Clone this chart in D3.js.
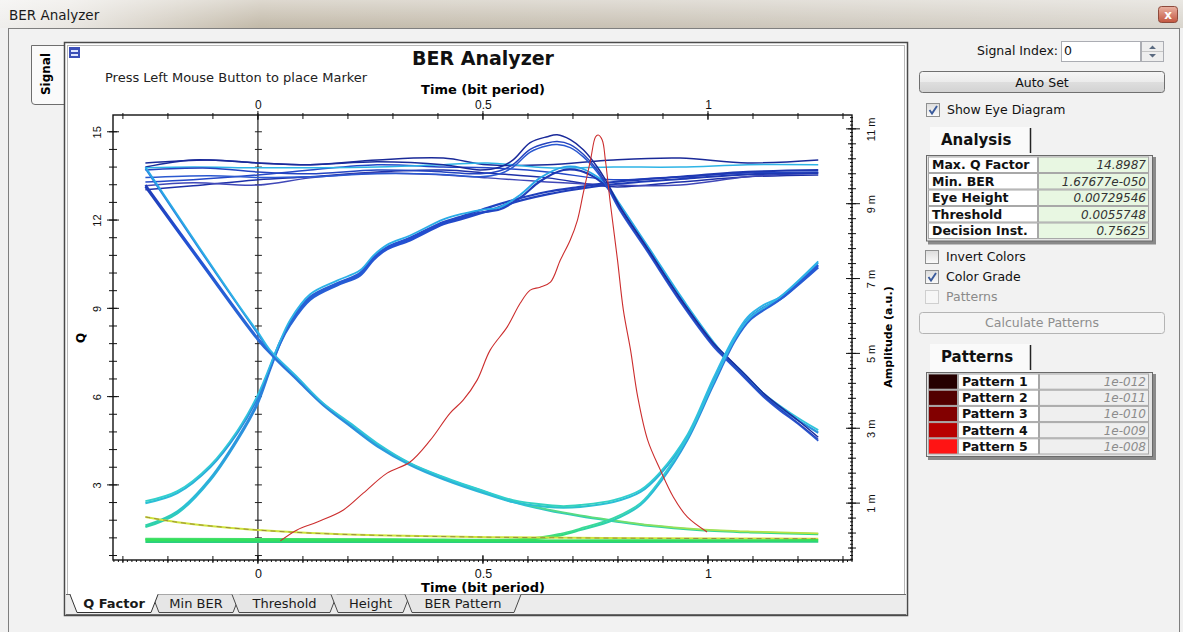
<!DOCTYPE html>
<html>
<head>
<meta charset="utf-8">
<style>
body { margin: 0; background: #f1f1f1; }
svg { display: block; font-family: "DejaVu Sans", Verdana, sans-serif; }
</style>
</head>
<body>
<svg id="win" width="1183" height="632"></svg>
<script src="https://cdn.jsdelivr.net/npm/d3@7"></script>
<script>
// ---------- data ----------
var qTicks = [3, 6, 9, 12, 15];
var ampTicks = [1, 3, 5, 7, 9, 11];
var timeTicks = [0, 0.5, 1];

// Q factor curve (left axis)
var qTime  = [0.050, 0.087, 0.132, 0.190, 0.234, 0.287, 0.338, 0.383, 0.427, 0.456, 0.487, 0.516, 0.554, 0.583, 0.605, 0.627, 0.650, 0.672, 0.694, 0.710, 0.723, 0.739, 0.750, 0.756, 0.765, 0.772, 0.783, 0.799, 0.812, 0.828, 0.844, 0.866, 0.894, 0.923, 0.954, 0.998];
var qValue = [1.10, 1.47, 1.74, 2.15, 2.72, 3.40, 3.78, 4.52, 5.44, 5.88, 6.56, 7.58, 8.37, 9.18, 9.62, 9.72, 9.89, 10.64, 11.32, 12.00, 12.92, 14.04, 14.82, 14.89, 14.72, 14.04, 12.57, 10.64, 8.94, 7.58, 5.98, 4.52, 3.51, 2.59, 1.91, 1.40];

// eye diagram, amplitude in m(a.u.) vs time (bit period)
var highTime = [-0.25, -0.144, 0, 0.116, 0.265, 0.412, 0.51, 0.643, 0.79, 0.938, 1.088, 1.245];
var high1 = [9.98, 10.17, 10.09, 10.04, 10.17, 10.22, 10.04, 10.04, 10.17, 10.22, 10.09, 10.17];
var high2 = [9.96, 9.98, 9.96, 9.96, 9.98, 10.04, 10.09, 9.96, 9.98, 9.98, 10.04, 10.04];
var high3 = [9.58, 9.64, 9.77, 9.90, 10.04, 9.98, 9.96, 9.85, 9.64, 9.72, 9.82, 9.85];
var high4 = [9.37, 9.48, 9.64, 9.72, 9.85, 9.90, 9.82, 9.69, 9.45, 9.58, 9.72, 9.77];
var high5 = [9.48, 9.56, 9.50, 9.69, 9.82, 9.77, 9.69, 9.58, 9.50, 9.50, 9.72, 9.82];

var overshoot1 = [[-0.25,10.09],[-0.106,10.17],[0,10.09],[0.116,10.04],[0.265,10.12],[0.412,10.04],[0.494,9.90],[0.538,9.98],[0.567,10.17],[0.605,10.63],[0.643,10.79],[0.665,10.84],[0.694,10.71],[0.723,10.44],[0.754,9.98],[0.776,9.56],[0.805,8.91],[0.865,7.82],[0.938,6.48],[1.012,5.28],[1.043,4.90],[1.088,4.37],[1.123,3.94],[1.161,3.57],[1.199,3.22],[1.245,2.76]];
var overshoot2 = [[-0.25,9.90],[-0.106,9.95],[0,9.85],[0.116,9.80],[0.265,9.90],[0.412,9.85],[0.494,9.80],[0.538,9.88],[0.567,10.05],[0.605,10.45],[0.643,10.62],[0.665,10.66],[0.694,10.58],[0.723,10.32],[0.754,9.90],[0.776,9.48],[0.805,8.84],[0.865,7.76],[0.938,6.42],[1.012,5.22],[1.043,4.84],[1.088,4.30],[1.123,3.88],[1.161,3.50],[1.199,3.15],[1.245,2.70]];
var overshoot3 = [[-0.25,9.70],[-0.106,9.75],[0,9.70],[0.116,9.72],[0.265,9.80],[0.412,9.78],[0.494,9.72],[0.538,9.80],[0.567,9.98],[0.605,10.38],[0.643,10.55],[0.665,10.58],[0.694,10.50],[0.723,10.25],[0.754,9.84],[0.776,9.44],[0.805,8.80],[0.865,7.72],[0.938,6.38],[1.012,5.18],[1.043,4.80],[1.088,4.26],[1.123,3.84],[1.161,3.46],[1.199,3.12],[1.245,2.66]];

var riseGentle1 = [[-0.25,1.0],[-0.179,1.27],[-0.106,1.96],[-0.046,2.87],[0,3.83],[0.043,5.09],[0.072,5.84],[0.116,6.51],[0.177,6.88],[0.227,7.15],[0.257,7.58],[0.287,7.84],[0.338,8.09],[0.412,8.51],[0.45,8.65],[0.51,8.89],[0.567,9.10],[0.643,9.32],[0.716,9.45],[0.79,9.58],[0.938,9.72],[1.088,9.85],[1.245,9.90]];
var riseGentle2 = [[-0.25,0.36],[-0.179,0.73],[-0.106,1.61],[-0.032,2.95],[0,3.67],[0.027,4.56],[0.05,5.28],[0.072,5.76],[0.116,6.43],[0.177,6.82],[0.227,7.08],[0.257,7.50],[0.287,7.78],[0.338,8.02],[0.412,8.45],[0.45,8.58],[0.51,8.80],[0.567,9.03],[0.643,9.25],[0.716,9.40],[0.79,9.52],[0.938,9.66],[1.088,9.78],[1.245,9.82]];
var risePeak1 = [[-0.25,1.05],[-0.179,1.32],[-0.106,2.01],[-0.046,2.93],[0,3.90],[0.043,5.15],[0.072,5.90],[0.116,6.58],[0.177,6.95],[0.227,7.22],[0.257,7.62],[0.287,7.90],[0.338,8.15],[0.412,8.58],[0.45,8.72],[0.494,8.83],[0.538,8.91],[0.583,9.24],[0.627,9.69],[0.679,9.98],[0.716,9.96],[0.754,9.72],[0.776,9.50],[0.805,8.97],[0.872,7.76],[0.945,6.43],[1.027,5.09],[1.072,4.56],[1.123,3.94],[1.183,3.41],[1.245,2.95]];
var risePeak2 = [[-0.25,0.40],[-0.179,0.78],[-0.106,1.66],[-0.032,3.0],[0,3.72],[0.027,4.62],[0.05,5.33],[0.072,5.80],[0.116,6.47],[0.177,6.86],[0.227,7.12],[0.257,7.55],[0.287,7.82],[0.338,8.06],[0.412,8.48],[0.45,8.62],[0.494,8.76],[0.538,8.85],[0.583,9.16],[0.627,9.60],[0.679,9.90],[0.716,9.88],[0.754,9.66],[0.776,9.44],[0.805,8.92],[0.872,7.70],[0.945,6.38],[1.027,5.04],[1.072,4.50],[1.123,3.88],[1.183,3.35],[1.245,2.88]];

var fallU1 = [[-0.25,9.98],[-0.128,7.79],[-0.04,6.24],[0,5.57],[0.027,5.09],[0.087,4.37],[0.145,3.67],[0.205,3.14],[0.265,2.60],[0.338,2.07],[0.412,1.70],[0.516,1.27],[0.567,1.08],[0.643,0.95],[0.679,0.92],[0.716,0.95],[0.79,1.08],[0.85,1.35],[0.894,1.83],[0.954,2.82],[1.012,4.34],[1.057,5.41],[1.088,5.97],[1.123,6.29],[1.161,6.51],[1.205,6.96],[1.245,7.42]];
var fallU2 = [[-0.25,9.45],[-0.127,7.42],[0,5.36],[0.035,4.90],[0.087,4.29],[0.145,3.62],[0.205,3.06],[0.265,2.52],[0.338,2.02],[0.412,1.64],[0.516,1.21],[0.567,1.03],[0.643,0.90],[0.679,0.88],[0.716,0.90],[0.79,1.03],[0.85,1.30],[0.894,1.78],[0.954,2.76],[1.012,4.26],[1.057,5.33],[1.088,5.90],[1.123,6.22],[1.161,6.45],[1.205,6.88],[1.245,7.30]];
var fallDecay1 = [[-0.25,9.50],[-0.127,7.47],[0,5.40],[0.035,4.94],[0.087,4.33],[0.145,3.65],[0.205,3.10],[0.265,2.56],[0.338,2.05],[0.412,1.68],[0.516,1.25],[0.567,1.03],[0.643,0.81],[0.716,0.65],[0.79,0.52],[0.872,0.39],[0.983,0.28],[1.094,0.22],[1.245,0.17]];
var fallDecay2 = [[-0.25,9.94],[-0.128,7.75],[0,5.52],[0.027,5.05],[0.087,4.33],[0.145,3.63],[0.205,3.10],[0.265,2.57],[0.338,2.04],[0.412,1.67],[0.516,1.24],[0.567,1.05],[0.643,0.83],[0.716,0.67],[0.79,0.54],[0.872,0.41],[0.983,0.30],[1.094,0.24],[1.245,0.19]];

var floorRise1 = [[-0.25,0.03],[0.3,0.02],[0.605,0.03],[0.672,0.14],[0.716,0.28],[0.79,0.55],[0.85,0.95],[0.894,1.56],[0.954,2.68],[1.012,4.16],[1.061,5.36],[1.094,5.90],[1.161,6.45],[1.245,7.36]];
var floorRise2 = [[-0.25,0.05],[0.3,0.04],[0.6,0.05],[0.672,0.18],[0.716,0.32],[0.79,0.60],[0.85,1.0],[0.894,1.62],[0.954,2.74],[1.012,4.22],[1.061,5.42],[1.094,5.96],[1.161,6.52],[1.245,7.46]];
var floor1 = [[-0.25,0.01],[0.5,0.0],[1.245,0.01]];
var floor2 = [[-0.25,-0.04],[0.5,-0.04],[1.245,-0.03]];
var tailDecay = [[-0.25,0.63],[-0.179,0.49],[-0.106,0.39],[0,0.28],[0.116,0.20],[0.265,0.14],[0.516,0.09],[0.872,0.06],[1.245,0.05]];

var analysisLabels = ["Max. Q Factor", "Min. BER", "Eye Height", "Threshold", "Decision Inst."];
var analysisValues = ["14.8987", "1.67677e-050", "0.00729546", "0.0055748", "0.75625"];
var patternNames = ["Pattern 1", "Pattern 2", "Pattern 3", "Pattern 4", "Pattern 5"];
var patternBer = ["1e-012", "1e-011", "1e-010", "1e-009", "1e-008"];
var tabNames = ["Q Factor", "Min BER", "Threshold", "Height", "BER Pattern"];

// ---------- window chrome ----------
var svg = d3.select("#win");
var defs = svg.append("defs");

function grad(id, stops, vertical) {
	var g = defs.append("linearGradient").attr("id", id)
		.attr("x1", 0).attr("y1", 0).attr("x2", vertical ? 0 : 1).attr("y2", vertical ? 1 : 0);
	stops.forEach(function(s) { g.append("stop").attr("offset", s[0]).attr("stop-color", s[1]); });
	return g;
}
grad("tb", [[0, "#efeeec"], [0.06, "#e9e6e1"], [0.22, "#c2b9a8"], [0.55, "#c9c2b5"], [1, "#d9d5cd"]]);
grad("tbv", [[0, "#ffffff"], [1, "#ffffff"]], true).selectAll("stop").attr("stop-opacity", function(d, i) { return i ? 0 : 0.45; });
grad("btn", [[0, "#f6f6f6"], [0.5, "#ebebeb"], [0.51, "#dedede"], [1, "#d2d2d2"]], true);
grad("cls", [[0, "#eab3a3"], [1, "#c2553f"]], true);
grad("cb", [[0, "#dcdcdc"], [1, "#fbfbfb"]], true);

svg.append("rect").attr("width", 1183).attr("height", 28).attr("fill", "url(#tb)");
svg.append("rect").attr("width", 1183).attr("height", 28).attr("fill", "url(#tbv)");
svg.append("text").attr("x", 9).attr("y", 20).attr("font-size", 13.5).attr("fill", "#1a1a1a").text("BER Analyzer");
svg.append("rect").attr("x", 1158.5).attr("y", 6.5).attr("width", 19).attr("height", 16).attr("rx", 3)
	.attr("fill", "url(#cls)").attr("stroke", "#8d4a3c");
svg.append("text").attr("x", 1168).attr("y", 19).attr("text-anchor", "middle").attr("font-size", 12)
	.attr("font-weight", "bold").attr("fill", "#fff").text("x");

svg.append("rect").attr("x", 8.5).attr("y", 28.5).attr("width", 1171).attr("height", 610)
	.attr("fill", "#f2f2f2").attr("stroke", "#7f7f7f");

// left "Signal" tab
svg.append("path").attr("d", "M64,45.5 L31.5,45.5 L31.5,101 Q31.5,104.5 35,104.5 L64,104.5")
	.attr("fill", "#fafafa").attr("stroke", "#6e6e6e");
svg.append("text").attr("transform", "translate(50,74) rotate(-90)").attr("text-anchor", "middle")
	.attr("font-size", 12).attr("font-weight", "bold").text("Signal");

// chart panel
svg.append("rect").attr("x", 64.5).attr("y", 42.5).attr("width", 843).attr("height", 573)
	.attr("fill", "#fff").attr("stroke", "#4a4a4a").attr("stroke-width", 1.5);
svg.append("rect").attr("x", 67.5).attr("y", 45.5).attr("width", 837).attr("height", 567)
	.attr("fill", "none").attr("stroke", "#b8b8b8");

// bottom tab strip
svg.append("rect").attr("x", 66).attr("y", 594).attr("width", 840).attr("height", 20).attr("fill", "#ececec");
svg.append("line").attr("x1", 66).attr("x2", 906).attr("y1", 594.5).attr("y2", 594.5).attr("stroke", "#6a6a6a");
svg.append("line").attr("x1", 66).attr("x2", 906).attr("y1", 614.5).attr("y2", 614.5).attr("stroke", "#6a6a6a");
var tabX = [[70, 158], [152, 240], [232, 337], [331, 410], [405, 521]];
tabNames.forEach(function(name, i) {
	var a = tabX[i][0], b = tabX[i][1];
	if (i > 0) svg.append("path").attr("d", "M" + a + ",594.5 L" + (a + 7) + ",612.5 L" + (b - 7) + ",612.5 L" + b + ",594.5")
		.attr("fill", "#e6e6e6").attr("stroke", "#4a4a4a");
});
svg.append("path").attr("d", "M70,594.5 L77,612.5 L151,612.5 L158,594.5").attr("fill", "#fff").attr("stroke", "#333");
svg.append("line").attr("x1", 71).attr("x2", 157).attr("y1", 594.5).attr("y2", 594.5).attr("stroke", "#fff").attr("stroke-width", 1.5);
tabNames.forEach(function(name, i) {
	svg.append("text").attr("x", (tabX[i][0] + tabX[i][1]) / 2).attr("y", 608).attr("text-anchor", "middle")
		.attr("font-size", 13).attr("font-weight", i === 0 ? "bold" : "normal").attr("fill", "#1a1a1a").text(name);
});

// chart icon + headings
var icon = svg.append("g").attr("transform", "translate(69,47)");
icon.append("rect").attr("width", 11).attr("height", 11).attr("fill", "#3b4fb8");
icon.append("rect").attr("x", 2).attr("y", 3).attr("width", 7).attr("height", 2).attr("fill", "#dfe6ff");
icon.append("rect").attr("x", 2).attr("y", 7).attr("width", 7).attr("height", 2).attr("fill", "#dfe6ff");

svg.append("text").attr("x", 483).attr("y", 65).attr("text-anchor", "middle").attr("font-size", 19)
	.attr("font-weight", "bold").attr("fill", "#111").text("BER Analyzer");
svg.append("text").attr("x", 105).attr("y", 82).attr("font-size", 13).attr("fill", "#222")
	.text("Press Left Mouse Button to place Marker");

// ---------- plot ----------
var pL = 113, pR = 852, pT = 115, pB = 560;
var x = d3.scaleLinear().domain([-0.322, 1.32]).range([pL, pR]);
var yQ = d3.scaleLinear().domain([0.448, 15.57]).range([pB, pT]);
var yA = d3.scaleLinear().domain([-0.52, 11.37]).range([pB, pT]);

defs.append("clipPath").attr("id", "plotClip").append("rect")
	.attr("x", pL).attr("y", pT).attr("width", pR - pL).attr("height", pB - pT);

// colour-grade gradients along the amplitude axis
function ampGrad(id, stops) {
	var g = defs.append("linearGradient").attr("id", id).attr("gradientUnits", "userSpaceOnUse")
		.attr("x1", 0).attr("x2", 0).attr("y1", pT).attr("y2", pB);
	stops.forEach(function(s) {
		g.append("stop").attr("offset", (yA(s[0]) - pT) / (pB - pT)).attr("stop-color", s[1]);
	});
}
ampGrad("gMain", [[10.6, "#1c2da4"], [8, "#2350d2"], [5, "#2a6ed8"], [2.5, "#2b98de"], [1, "#2bbfd6"], [0.3, "#2fd6a0"], [0, "#34e060"]]);
ampGrad("gCyan", [[10, "#28a6e6"], [5, "#2fb8e6"], [1.2, "#31cfd0"], [0.2, "#3cdc88"], [0, "#48e060"]]);
ampGrad("gWarm", [[5, "#2a7ee0"], [1.5, "#2ec6d2"], [0.6, "#5ede78"], [0.15, "#c6e23c"], [0, "#d8e040"]]);

var zero = svg.append("g");
zero.append("line").attr("x1", x(0)).attr("x2", x(0)).attr("y1", pT).attr("y2", pB).attr("stroke", "#222").attr("stroke-width", 1.2);
var qMinor = d3.range(1, 26).map(function(k) { return k * 0.6; });
zero.selectAll("line.zt").data(qMinor).join("line").attr("class", "zt")
	.attr("x1", x(0) - 3).attr("x2", x(0) + 4).attr("y1", function(d) { return yQ(d); }).attr("y2", function(d) { return yQ(d); })
	.attr("stroke", "#222");

var eyeLine = d3.line().x(function(d) { return x(d[0]); }).y(function(d) { return yA(d[1]); })
	.curve(d3.curveCatmullRom.alpha(0.5));

var traces = [
	{ pts: d3.zip(highTime, high4), stroke: "#1e30a8", w: 1.5 },
	{ pts: d3.zip(highTime, high5), stroke: "#4048b8", w: 1.5 },
	{ pts: d3.zip(highTime, high3), stroke: "#2448c8", w: 1.5 },
	{ pts: d3.zip(highTime, high1), stroke: "#1a2a98", w: 1.5 },
	{ pts: d3.zip(highTime, high2), stroke: "#2eb4e6", w: 1.5 },
	{ pts: riseGentle2, stroke: "url(#gMain)", w: 2.2 },
	{ pts: riseGentle1, stroke: "url(#gMain)", w: 2.2 },
	{ pts: risePeak2, stroke: "url(#gMain)", w: 2.2 },
	{ pts: risePeak1, stroke: "url(#gCyan)", w: 1.8 },
	{ pts: overshoot3, stroke: "#2a58d0", w: 1.5 },
	{ pts: overshoot2, stroke: "#2444c0", w: 1.5 },
	{ pts: overshoot1, stroke: "#1a2a9a", w: 1.5 },
	{ pts: fallDecay1, stroke: "url(#gMain)", w: 2.2 },
	{ pts: fallDecay2, stroke: "url(#gWarm)", w: 1.8 },
	{ pts: fallU2, stroke: "url(#gMain)", w: 2.2 },
	{ pts: fallU1, stroke: "url(#gCyan)", w: 1.8 },
	{ pts: floorRise1, stroke: "url(#gMain)", w: 2.2 },
	{ pts: floorRise2, stroke: "url(#gCyan)", w: 1.8 },
	{ pts: tailDecay, stroke: "#cfe43c", w: 2 },
	{ pts: floor2, stroke: "#2ad080", w: 2 },
	{ pts: floor1, stroke: "#34e05c", w: 2.2 }
];

var plot = svg.append("g").attr("clip-path", "url(#plotClip)");
plot.selectAll("path.eye").data(traces).join("path").attr("class", "eye")
	.attr("d", function(d) { return eyeLine(d.pts); })
	.attr("fill", "none").attr("stroke", function(d) { return d.stroke; })
	.attr("stroke-width", function(d) { return d.w; }).attr("stroke-linejoin", "round");
plot.append("path").attr("d", eyeLine(tailDecay)).attr("fill", "none")
	.attr("stroke", "#9c8c3a").attr("stroke-width", 1).attr("stroke-dasharray", "5,4");

var qLine = d3.line().x(function(d) { return x(d[0]); }).y(function(d) { return yQ(d[1]); })
	.curve(d3.curveCatmullRom.alpha(0.5));
plot.append("path").attr("d", qLine(d3.zip(qTime, qValue))).attr("fill", "none")
	.attr("stroke", "#cc2e2e").attr("stroke-width", 1.1);

// ---------- axes ----------
svg.append("rect").attr("x", pL).attr("y", pT).attr("width", pR - pL).attr("height", pB - pT)
	.attr("fill", "none").attr("stroke", "#111").attr("stroke-width", 1.4);

function tickLines(cls, vals, x1, x2, y1, y2) {
	svg.selectAll("line." + cls).data(vals).join("line").attr("class", cls)
		.attr("x1", x1).attr("x2", x2).attr("y1", y1).attr("y2", y2)
		.attr("stroke", "#111").attr("stroke-width", 1);
}
var tMinor = d3.range(-3, 14).map(function(k) { return k / 10; });
var tTiny = d3.range(-32, 133).map(function(k) { return k / 100; });
var aMinor = d3.range(0, 29).map(function(k) { return -0.2 + k * 0.4; });
var aTiny = d3.range(-5, 114).map(function(k) { return k / 10; });

tickLines("tt", tMinor, function(d) { return x(d); }, function(d) { return x(d); }, pT - 2, pT + 4);
tickLines("bt", tMinor, function(d) { return x(d); }, function(d) { return x(d); }, pB - 4, pB + 3);
tickLines("btt", tTiny, function(d) { return x(d); }, function(d) { return x(d); }, pB, pB + 2);
tickLines("lt", qMinor, pL - 4, pL + 4, function(d) { return yQ(d); }, function(d) { return yQ(d); });
tickLines("lq", qTicks, pL - 6, pL + 6, function(d) { return yQ(d); }, function(d) { return yQ(d); });
tickLines("rt", aMinor, pR - 4, pR + 4, function(d) { return yA(d); }, function(d) { return yA(d); });
tickLines("rtt", aTiny, pR - 2, pR + 1, function(d) { return yA(d); }, function(d) { return yA(d); });
tickLines("ra", ampTicks, pR - 6, pR + 8, function(d) { return yA(d); }, function(d) { return yA(d); });
tickLines("t0", timeTicks, function(d) { return x(d); }, function(d) { return x(d); }, pT - 4, pT + 5);
tickLines("b0", timeTicks, function(d) { return x(d); }, function(d) { return x(d); }, pB - 5, pB + 4);

function clean(g) { g.select(".domain").remove(); g.selectAll(".tick line").remove(); }

svg.append("g").attr("transform", "translate(0," + pT + ")")
	.call(d3.axisTop(x).tickValues(timeTicks).tickSize(0).tickPadding(6).tickFormat(d3.format("")))
	.call(clean).selectAll("text").attr("font-size", 12).attr("font-family", null).attr("fill", "#111");
svg.append("g").attr("transform", "translate(0," + pB + ")")
	.call(d3.axisBottom(x).tickValues(timeTicks).tickSize(0).tickPadding(9).tickFormat(d3.format("")))
	.call(clean).selectAll("text").attr("font-size", 12.5).attr("font-family", null).attr("fill", "#111");

svg.append("g").attr("transform", "translate(" + pL + ",0)")
	.call(d3.axisLeft(yQ).tickValues(qTicks).tickSize(0))
	.call(clean).selectAll("text")
	.attr("transform", "rotate(-90)").attr("x", 0).attr("y", -12).attr("dy", null)
	.attr("text-anchor", "middle").attr("font-size", 11).attr("font-family", null).attr("fill", "#111");

svg.append("g").attr("transform", "translate(" + pR + ",0)")
	.call(d3.axisRight(yA).tickValues(ampTicks).tickSize(0).tickFormat(function(d) { return d + " m"; }))
	.call(clean).selectAll("text")
	.attr("transform", "rotate(-90)").attr("x", 0).attr("y", 23).attr("dy", null)
	.attr("text-anchor", "middle").attr("font-size", 11).attr("font-family", null).attr("fill", "#111");

svg.append("text").attr("x", 483).attr("y", 94).attr("text-anchor", "middle").attr("font-size", 13)
	.attr("font-weight", "bold").text("Time (bit period)");
svg.append("text").attr("x", 483).attr("y", 592).attr("text-anchor", "middle").attr("font-size", 13)
	.attr("font-weight", "bold").text("Time (bit period)");
svg.append("text").attr("transform", "translate(85,338) rotate(-90)").attr("text-anchor", "middle")
	.attr("font-size", 12).attr("font-weight", "bold").text("Q");
svg.append("text").attr("transform", "translate(892,337) rotate(-90)").attr("text-anchor", "middle")
	.attr("font-size", 11).attr("font-weight", "bold").text("Amplitude (a.u.)");

// ---------- right side controls ----------
var side = svg.append("g").attr("font-size", 12.5).attr("fill", "#111");
side.append("text").attr("x", 1058).attr("y", 55).attr("text-anchor", "end").text("Signal Index:");
side.append("rect").attr("x", 1061.5).attr("y", 41.5).attr("width", 79).attr("height", 20).attr("fill", "#fff").attr("stroke", "#abadb3");
side.append("text").attr("x", 1064).attr("y", 55).text("0");
side.append("rect").attr("x", 1141.5).attr("y", 41.5).attr("width", 22).attr("height", 20).attr("fill", "#eeeeee").attr("stroke", "#abadb3");
side.append("line").attr("x1", 1142).attr("x2", 1163).attr("y1", 51.5).attr("y2", 51.5).attr("stroke", "#c4c4c4");
side.append("path").attr("d", "M1149,49 L1152.5,45.5 L1156,49 Z M1149,54 L1152.5,57.5 L1156,54 Z").attr("fill", "#5a6a80");

side.append("rect").attr("x", 919.5).attr("y", 71.5).attr("width", 245).attr("height", 21).attr("rx", 3)
	.attr("fill", "url(#btn)").attr("stroke", "#707070");
side.append("text").attr("x", 1042).attr("y", 87).attr("text-anchor", "middle").text("Auto Set");

function checkbox(x0, y0, checked, enabled, label) {
	side.append("rect").attr("x", x0 + 0.5).attr("y", y0 + 0.5).attr("width", 13).attr("height", 13)
		.attr("fill", enabled ? "url(#cb)" : "#f6f6f6").attr("stroke", enabled ? "#8e8f8f" : "#cfcfcf");
	if (checked) side.append("path").attr("d", "M" + (x0 + 3.5) + "," + (y0 + 7) + " L" + (x0 + 6) + "," + (y0 + 10.5) + " L" + (x0 + 11) + "," + (y0 + 3))
		.attr("fill", "none").attr("stroke", "#3a5b9c").attr("stroke-width", 1.9);
	side.append("text").attr("x", x0 + 21).attr("y", y0 + 11).attr("fill", enabled ? "#111" : "#8a8a8a").text(label);
}
checkbox(926, 103, true, true, "Show Eye Diagram");
checkbox(925, 250, false, true, "Invert Colors");
checkbox(925, 270, true, true, "Color Grade");
checkbox(925, 290, false, false, "Patterns");

side.append("rect").attr("x", 919.5).attr("y", 312.5).attr("width", 245).attr("height", 21).attr("rx", 3)
	.attr("fill", "#f4f4f4").attr("stroke", "#b4b4b4");
side.append("text").attr("x", 1042).attr("y", 327).attr("text-anchor", "middle").attr("fill", "#8e8e8e").text("Calculate Patterns");

function tabHead(x0, y0, label) {
	side.append("rect").attr("x", x0).attr("y", y0).attr("width", 100).attr("height", 28).attr("fill", "#fafafa");
	side.append("line").attr("x1", x0 + 100.5).attr("x2", x0 + 100.5).attr("y1", y0 + 1).attr("y2", y0 + 26).attr("stroke", "#222").attr("stroke-width", 1.5);
	side.append("text").attr("x", x0 + 11).attr("y", y0 + 18).attr("font-size", 15).attr("font-weight", "bold").text(label);
}
tabHead(930, 127, "Analysis");
tabHead(930, 344, "Patterns");

function tableFrame(x0, y0, w, h) {
	side.append("rect").attr("x", x0 + 2).attr("y", y0 + 2).attr("width", w + 2).attr("height", h + 2).attr("fill", "#8a8a8a");
	side.append("rect").attr("x", x0 + 0.5).attr("y", y0 + 0.5).attr("width", w).attr("height", h).attr("fill", "#e4e4e4").attr("stroke", "#6a6a6a");
}
var rowH = 16.5;
tableFrame(926, 155, 226, 5 * rowH + 3);
analysisLabels.forEach(function(lab, i) {
	var ry = 156.5 + i * rowH;
	side.append("rect").attr("x", 928.5).attr("y", ry + 0.5).attr("width", 109).attr("height", rowH - 1).attr("fill", "#fff").attr("stroke", "#a8a8a8");
	side.append("rect").attr("x", 1038.5).attr("y", ry + 0.5).attr("width", 110).attr("height", rowH - 1).attr("fill", "#e8f7e2").attr("stroke", "#a8a8a8");
	side.append("text").attr("x", 932).attr("y", ry + 12.5).attr("font-weight", "bold").attr("font-size", 12.5).text(lab);
	side.append("text").attr("x", 1146).attr("y", ry + 12.5).attr("text-anchor", "end").attr("font-style", "italic")
		.attr("font-size", 12).attr("fill", "#333").text(analysisValues[i]);
});

var patternFill = ["#260000", "#520000", "#820000", "#b80000", "#ff1414"];
var pRowH = 16.2;
tableFrame(926, 372, 226, 5 * pRowH + 3);
patternNames.forEach(function(name, i) {
	var ry = 373.5 + i * pRowH;
	side.append("rect").attr("x", 928.5).attr("y", ry + 0.5).attr("width", 29).attr("height", pRowH - 1).attr("fill", patternFill[i]).attr("stroke", "#a8a8a8");
	side.append("rect").attr("x", 958.5).attr("y", ry + 0.5).attr("width", 80).attr("height", pRowH - 1).attr("fill", "#fff").attr("stroke", "#a8a8a8");
	side.append("rect").attr("x", 1039.5).attr("y", ry + 0.5).attr("width", 109).attr("height", pRowH - 1).attr("fill", "#efefef").attr("stroke", "#a8a8a8");
	side.append("text").attr("x", 962).attr("y", ry + 12.5).attr("font-weight", "bold").attr("font-size", 12.5).text(name);
	side.append("text").attr("x", 1146).attr("y", ry + 12.5).attr("text-anchor", "end").attr("font-style", "italic")
		.attr("font-size", 12).attr("fill", "#8c8c8c").text(patternBer[i]);
});
</script>
</body>
</html>
